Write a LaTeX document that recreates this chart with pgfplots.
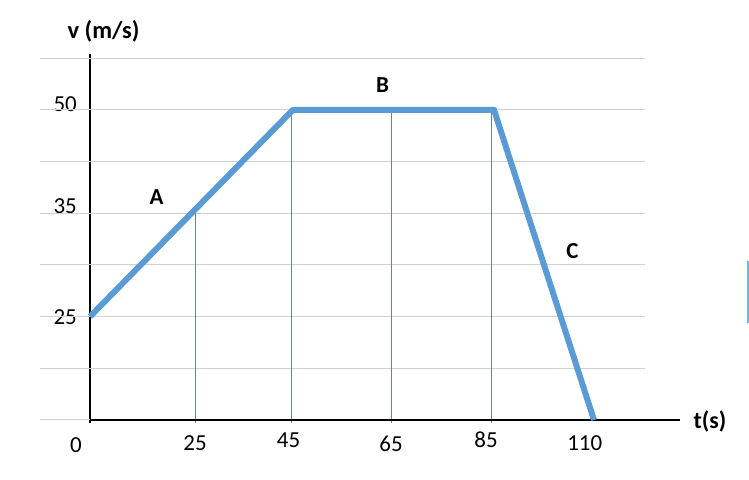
\documentclass[border=0pt]{standalone}
\usepackage{pgfplots}
\pgfplotsset{compat=1.18}
\usepackage{fontspec}
\setmainfont{Carlito}
\definecolor{lineblue}{HTML}{5B9BD5}
\definecolor{dropblue}{HTML}{4A88C8}
\definecolor{gridgray}{HTML}{D0D0D0}
\begin{document}
\fontsize{23}{27}\selectfont
\begin{tikzpicture}
\useasboundingbox (0,0) rectangle (749bp,480bp);
\begin{axis}[
  at={(90bp,60bp)}, anchor=south west,
  x=1bp, y=51.7bp,
  xmin=0, xmax=590, ymin=0, ymax=7.08,
  axis x line*=bottom, axis y line*=left,
  axis line style={black, line width=1.1bp},
  clip=false,
  major tick length=0pt,
  xtick={105,198.5,301,396,494.7},
  xticklabels={25,\raisebox{3bp}{45},\raisebox{-1bp}{65},\raisebox{3bp}{85},\raisebox{0.8bp}{110}},
  ytick={2,4,6},
  yticklabels={\raisebox{-0.5bp}{25},\raisebox{7bp}{35},\raisebox{5.7bp}{50}},
  tick label style={font=\fontsize{23}{27}\selectfont, inner sep=0pt},
  xticklabel style={anchor=base, yshift=-30.8bp},
  yticklabel style={anchor=base east, xshift=-13bp, yshift=-7.3bp},
]
% grid lines
\pgfplotsinvokeforeach{0,1,2,3,4,5,6,7}{
  \draw[gridgray, line width=1bp] (axis cs:-50,#1) -- (axis cs:555,#1);
}
% drop lines
\addplot[dropblue, line width=1.3bp] coordinates {(105.5,-0.06) (105.5,4)};
\addplot[dropblue, line width=1.3bp] coordinates {(201.5,-0.06) (201.5,6)};
\addplot[dropblue, line width=1.3bp] coordinates {(301.5,-0.06) (301.5,6)};
\addplot[dropblue, line width=1.3bp] coordinates {(401.5,-0.06) (401.5,6)};
% redraw axis lines over gridline
\draw[black, line width=1.1bp] (axis cs:0,0) -- (axis cs:590,0);
\draw[black, line width=1.1bp] (axis cs:0,0) -- (axis cs:0,-0.06);
% main velocity line
\addplot[lineblue, line width=6bp, line join=round] coordinates {
  (0,2) (203,6) (404,6) (504,0)
};
% labels
\node[font=\fontsize{23}{27}\selectfont, anchor=base] at (axis cs:-14,0) [yshift=-32bp] {0};
\node[font=\fontsize{24.5}{28}\selectfont\bfseries] at (axis cs:13.5,7.51) {v (m/s)};
\node[font=\fontsize{24}{28}\selectfont\bfseries] at (axis cs:620,-0.03) {t(s)};
\node[font=\fontsize{23}{27}\selectfont\bfseries] at (axis cs:66.5,4.32) {A};
\node[font=\fontsize{23}{27}\selectfont\bfseries] at (axis cs:292.5,6.48) {B};
\node[font=\fontsize{23}{27}\selectfont\bfseries] at (axis cs:482.5,3.26) {C};
\end{axis}
\draw[lineblue!80, line width=1.2bp] (749bp,218bp) -- (748bp,218bp) -- (748bp,158bp) -- (749bp,158bp);
\end{tikzpicture}
\end{document}
